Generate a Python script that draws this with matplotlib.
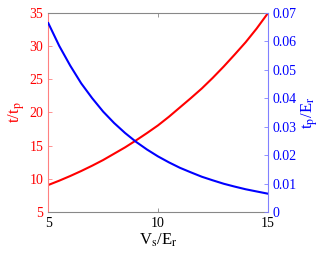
import matplotlib
matplotlib.use("Agg")
import matplotlib.pyplot as plt

plt.rcParams["font.family"] = ["Liberation Serif", "DejaVu Serif"]
plt.rcParams["mathtext.fontset"] = "stix"

vs_er = [5, 5.5, 6, 6.5, 7, 7.5, 8, 8.5, 9, 9.5, 10,
         10.5, 11, 11.5, 12, 12.5, 13, 13.5, 14, 14.5, 15]
t_tp = [9.1, 9.75, 10.45, 11.2, 12.0, 12.85, 13.8, 14.75, 15.8, 16.9, 18.05,
        19.35, 20.75, 22.15, 23.6, 25.2, 26.9, 28.7, 30.55, 32.6, 34.85]
tp_er = [0.0663, 0.0583, 0.0514, 0.0452, 0.0400, 0.0353, 0.0313, 0.0278, 0.0247, 0.0220, 0.0196,
         0.0175, 0.0156, 0.0140, 0.01246, 0.0112, 0.0100, 0.0090, 0.00807, 0.0073, 0.00654]

red = "#ff0000"
blue = "#0000ff"

fig = plt.figure(figsize=(3.32, 2.57), dpi=100)
ax = fig.add_axes([0.1455, 0.174, 0.6605, 0.777])
ax2 = ax.twinx()

ax.plot(vs_er, t_tp, color=red, lw=1.5)
ax2.plot(vs_er, tp_er, color=blue, lw=1.5)

ax.set_xlim(5, 15)
ax.set_ylim(5, 35)
ax2.set_ylim(0, 0.07)
ax.set_xticks([5, 10, 15])
ax.set_yticks(range(5, 36, 5))
ax2.set_yticks([0, 0.01, 0.02, 0.03, 0.04, 0.05, 0.06, 0.07])
ax2.set_yticklabels(["0", "0.01", "0.02", "0.03", "0.04", "0.05", "0.06", "0.07"])

for s in ["top", "bottom"]:
    ax.spines[s].set_color("#888888")
    ax2.spines[s].set_visible(False)
ax.spines["left"].set_color("#ff8080")
ax.spines["right"].set_visible(False)
ax2.spines["left"].set_visible(False)
ax2.spines["right"].set_color("#8080ff")

ax.tick_params(axis="x", direction="in", top=True, colors="#888888",
               labelcolor="black", labelsize=10, length=3, width=0.6)
ax.tick_params(axis="y", direction="in", colors="#ff8080", labelcolor=red,
               labelsize=10, length=3, width=0.6)
ax2.tick_params(axis="y", direction="in", colors="#8080ff", labelcolor=blue,
                labelsize=10, length=3, width=0.6)

ax.set_xlabel(r"V$_\mathrm{s}$/E$_\mathrm{r}$", fontsize=12, labelpad=1)
ax.set_ylabel(r"t/t$_\mathrm{p}$", fontsize=12, color=red, labelpad=2)
ax2.set_ylabel(r"t$_\mathrm{p}$/E$_\mathrm{r}$", fontsize=12, color=blue, labelpad=2)

fig.savefig("out.png", dpi=100)
